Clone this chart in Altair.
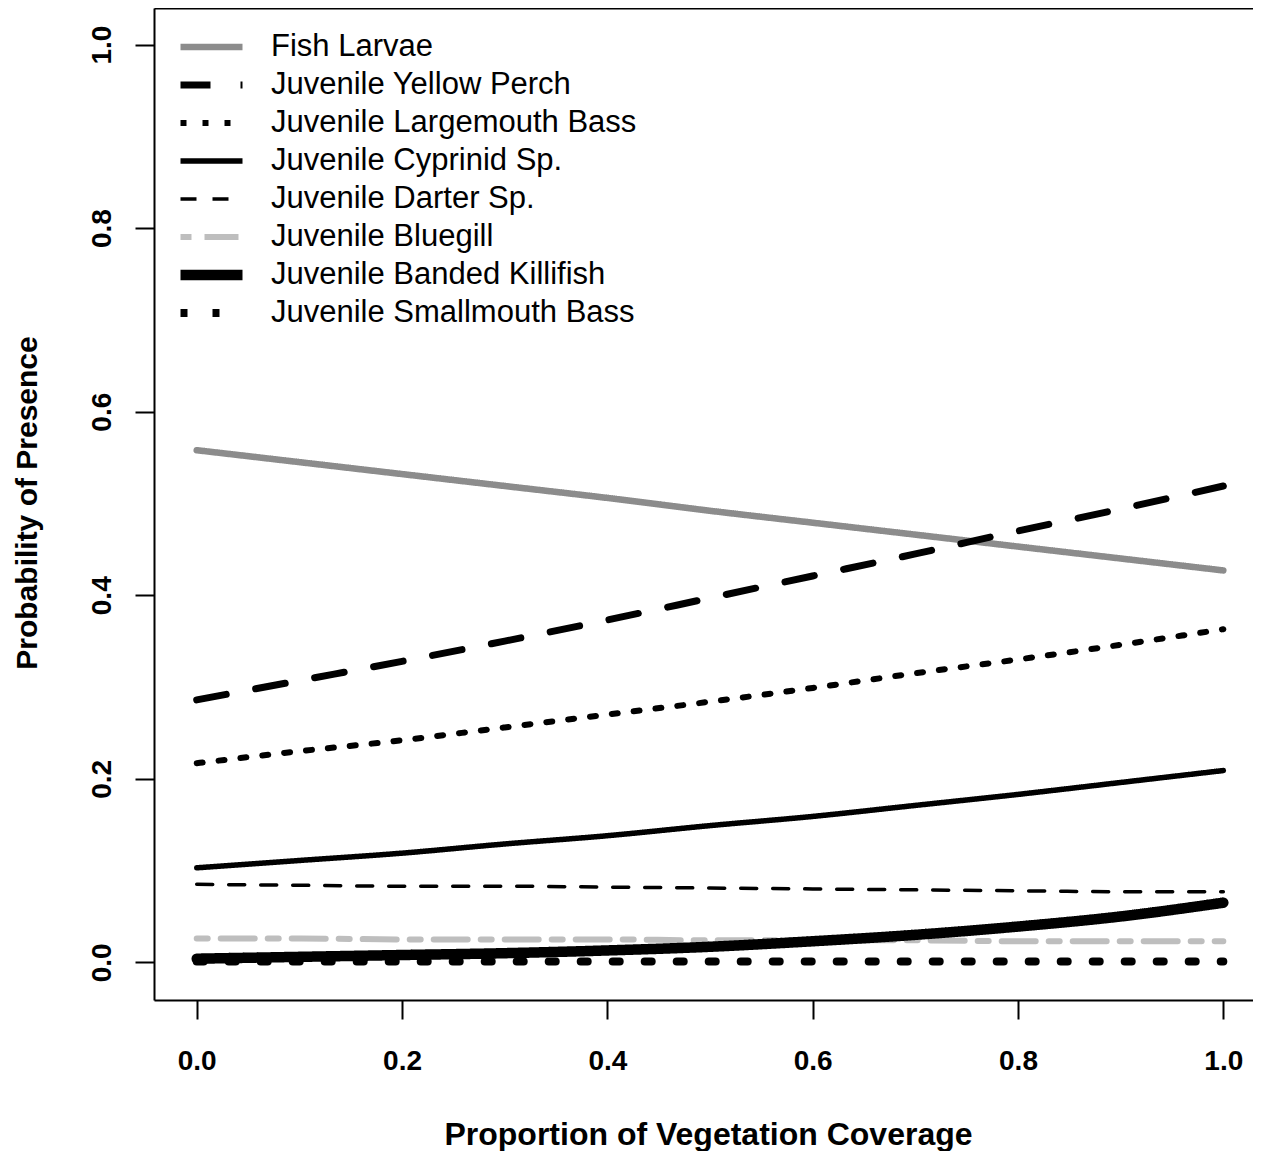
import altair as alt
import pandas as pd

# ---- data ----
coverage = [0.0, 0.1, 0.2, 0.3, 0.4, 0.5, 0.6, 0.7, 0.8, 0.9, 1.0]
species = [
    "Fish Larvae",
    "Juvenile Yellow Perch",
    "Juvenile Largemouth Bass",
    "Juvenile Cyprinid Sp.",
    "Juvenile Darter Sp.",
    "Juvenile Bluegill",
    "Juvenile Banded Killifish",
    "Juvenile Smallmouth Bass",
]
fish_larvae = [0.558, 0.545, 0.532, 0.519, 0.506, 0.492, 0.479, 0.466, 0.453, 0.440, 0.427]
yellow_perch = [0.286, 0.307, 0.328, 0.350, 0.373, 0.397, 0.421, 0.445, 0.470, 0.494, 0.519]
largemouth_bass = [0.217, 0.230, 0.242, 0.256, 0.270, 0.284, 0.299, 0.315, 0.330, 0.346, 0.363]
cyprinid = [0.103, 0.111, 0.119, 0.129, 0.138, 0.149, 0.159, 0.171, 0.183, 0.196, 0.209]
darter = [0.085, 0.084, 0.083, 0.083, 0.082, 0.081, 0.080, 0.079, 0.078, 0.077, 0.077]
bluegill = [0.026, 0.026, 0.025, 0.025, 0.025, 0.024, 0.024, 0.024, 0.023, 0.023, 0.023]
banded_killifish = [0.004, 0.006, 0.008, 0.010, 0.013, 0.017, 0.023, 0.030, 0.039, 0.050, 0.065]
smallmouth_bass = [0.001, 0.001, 0.001, 0.001, 0.001, 0.001, 0.001, 0.001, 0.001, 0.001, 0.001]

y_ticks = [0.0, 0.2, 0.4, 0.6, 0.8, 1.0]
x_ticks = [0.0, 0.2, 0.4, 0.6, 0.8, 1.0]

# ---- styles ----
line_colors = ["#8c8c8c", "#000000", "#000000", "#000000", "#000000", "#bebebe", "#000000", "#000000"]
line_dashes = [[1, 0], [30, 30], [6, 16], [1, 0], [16, 16], [11, 13, 34, 13], [1, 0], [7, 25]]
line_widths = [6.5, 7, 6, 5.5, 3.5, 6, 10.5, 8]

series = [fish_larvae, yellow_perch, largemouth_bass, cyprinid, darter,
          bluegill, banded_killifish, smallmouth_bass]
rows = []
for name, vals in zip(species, series):
    for xv, yv in zip(coverage, vals):
        rows.append({"species": name, "coverage": xv, "probability": yv})
df = pd.DataFrame(rows)

FONT = "Liberation Sans"
x_scale = alt.Scale(domain=[-0.0416, 1.0289], nice=False, zero=False)
y_scale = alt.Scale(domain=[-0.041, 1.0398], nice=False, zero=False)

legend = alt.Legend(
    title=None, orient="none", legendX=21, legendY=22,
    symbolType="stroke", symbolSize=3844, symbolOpacity=1,
    labelFont=FONT, labelFontSize=31, labelColor="black", labelLimit=1000,
    labelOffset=23, padding=0, rowPadding=4, clipHeight=34,
)

lines = alt.Chart(df).mark_line(strokeCap="round", strokeJoin="round", interpolate="monotone").encode(
    x=alt.X("coverage:Q", scale=x_scale, axis=alt.Axis(
        values=x_ticks, format=".1f", labelFont=FONT, labelFontSize=28, labelFontWeight="bold",
        labelColor="black", labelPadding=28, labelFlush=False, labelOverlap=False,
        tickSize=19, tickWidth=2, tickColor="black", domainColor="black", domainWidth=2, grid=False,
        title="Proportion of Vegetation Coverage", titleFont=FONT, titleFontSize=32,
        titleFontWeight="bold", titleColor="black", titleX=554, titleY=144,
        titleAlign="center", titleBaseline="alphabetic")),
    y=alt.Y("probability:Q", scale=y_scale, axis=alt.Axis(
        values=y_ticks, format=".1f", labelFont=FONT, labelFontSize=28, labelFontWeight="bold",
        labelColor="black", labelAngle=270, labelAlign="center", labelBaseline="alphabetic",
        labelPadding=25, labelFlush=False, labelOverlap=False,
        tickSize=19, tickWidth=2, tickColor="black", domainColor="black", domainWidth=2, grid=False,
        title="Probability of Presence", titleFont=FONT, titleFontSize=30,
        titleFontWeight="bold", titleColor="black", titleAngle=270, titleX=-118, titleY=494.5,
        titleAlign="center", titleBaseline="alphabetic")),
    color=alt.Color("species:N", scale=alt.Scale(domain=species, range=line_colors), legend=legend),
    strokeDash=alt.StrokeDash("species:N", scale=alt.Scale(domain=species, range=line_dashes), legend=legend),
    strokeWidth=alt.StrokeWidth("species:N", scale=alt.Scale(type="ordinal", domain=species, range=line_widths), legend=legend),
)

frame = alt.Chart(df).mark_line(opacity=0).encode(
    x=alt.X("coverage:Q", scale=x_scale, axis=alt.Axis(
        orient="top", labels=False, ticks=False, title=None, grid=False,
        domainColor="black", domainWidth=2)),
    y=alt.Y("probability:Q", scale=y_scale, axis=None),
)

chart = alt.layer(lines, frame).resolve_axis(x="independent", y="independent").properties(
    width=1099, height=992,
    padding={"left": 146, "top": 0, "right": 0, "bottom": 151},
    autosize=alt.AutoSizeParams(type="none"),
).configure_view(stroke=None)

chart.save("out.html", embed_options={"renderer": "svg", "actions": False})
